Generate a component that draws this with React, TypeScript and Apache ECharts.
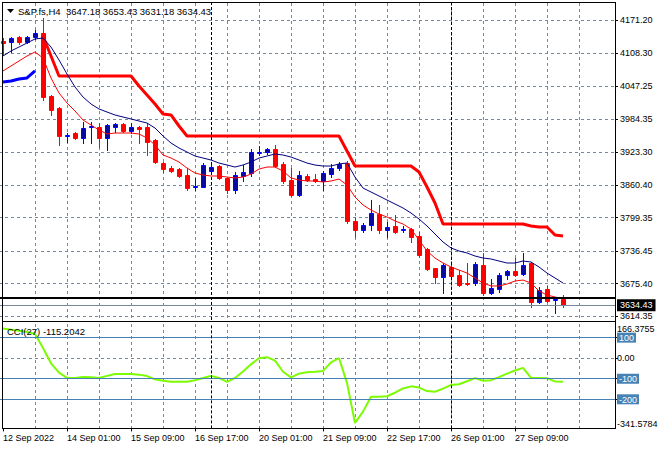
import React, { useEffect, useRef } from "react";
import * as echarts from "echarts";

// ---------- data ----------
const symbolName = "S&P.fs";
const timeframe = "H4";

const barTimes = [
  "12 Sep 17:00", "12 Sep 21:00", "13 Sep 01:00", "13 Sep 05:00", "13 Sep 09:00", "13 Sep 13:00", "13 Sep 17:00", "13 Sep 21:00",
  "14 Sep 01:00", "14 Sep 05:00", "14 Sep 09:00", "14 Sep 13:00", "14 Sep 17:00", "14 Sep 21:00", "15 Sep 01:00", "15 Sep 05:00",
  "15 Sep 09:00", "15 Sep 13:00", "15 Sep 17:00", "15 Sep 21:00", "16 Sep 01:00", "16 Sep 05:00", "16 Sep 09:00", "16 Sep 13:00",
  "16 Sep 17:00", "16 Sep 21:00", "19 Sep 01:00", "19 Sep 05:00", "19 Sep 09:00", "19 Sep 13:00", "19 Sep 17:00", "19 Sep 21:00",
  "20 Sep 01:00", "20 Sep 05:00", "20 Sep 09:00", "20 Sep 13:00", "20 Sep 17:00", "20 Sep 21:00", "21 Sep 01:00", "21 Sep 05:00",
  "21 Sep 09:00", "21 Sep 13:00", "21 Sep 17:00", "21 Sep 21:00", "22 Sep 01:00", "22 Sep 05:00", "22 Sep 09:00", "22 Sep 13:00",
  "22 Sep 17:00", "22 Sep 21:00", "23 Sep 01:00", "23 Sep 05:00", "23 Sep 09:00", "23 Sep 13:00", "23 Sep 17:00", "23 Sep 21:00",
  "26 Sep 01:00", "26 Sep 05:00", "26 Sep 09:00", "26 Sep 13:00", "26 Sep 17:00", "26 Sep 21:00", "27 Sep 01:00", "27 Sep 05:00",
  "27 Sep 09:00", "27 Sep 13:00", "27 Sep 17:00", "27 Sep 21:00", "28 Sep 01:00", "28 Sep 05:00", "28 Sep 09:00",
];

const openP = [
  4131.7, 4129.8, 4139.2, 4129.8, 4139.2, 4146.7, 4028.2, 4005.6, 3953.0, 3958.6,
  3949.2, 3969.9, 3969.9, 3949.2, 3969.9, 3975.5, 3962.4, 3969.9, 3969.9, 3945.4,
  3902.1, 3892.7, 3890.8, 3879.6, 3857.0, 3857.0, 3887.1, 3896.5, 3873.9, 3851.4,
  3877.7, 3883.3, 3921.5, 3922.8, 3928.5, 3900.3, 3870.2, 3842.0, 3877.7, 3872.0,
  3868.3, 3881.4, 3892.7, 3902.1, 3793.1, 3776.1, 3785.5, 3806.2, 3776.1, 3783.7,
  3776.1, 3778.0, 3764.8, 3740.4, 3704.6, 3687.7, 3706.5, 3691.5, 3676.4, 3676.4,
  3710.3, 3657.6, 3665.1, 3691.5, 3699.0, 3693.3, 3714.0, 3640.7, 3665.1, 3643.5,
  3647.18,
];
const highP = [
  4137.3, 4139.2, 4141.1, 4141.1, 4152.4, 4175.0, 4030.1, 4007.5, 3958.6, 3960.5,
  3979.3, 3979.3, 3977.4, 3975.5, 3977.4, 3977.4, 3977.4, 3971.8, 3977.4, 3947.3,
  3904.0, 3896.5, 3892.7, 3892.7, 3873.9, 3902.1, 3898.4, 3898.4, 3875.8, 3885.2,
  3898.4, 3928.5, 3934.1, 3930.4, 3936.0, 3904.0, 3892.7, 3887.1, 3881.4, 3881.4,
  3887.1, 3900.3, 3904.0, 3905.9, 3798.7, 3789.3, 3832.5, 3823.2, 3791.2, 3804.3,
  3783.7, 3779.9, 3772.4, 3742.3, 3704.6, 3714.0, 3710.3, 3700.9, 3714.0, 3715.9,
  3732.9, 3683.9, 3695.2, 3700.9, 3723.4, 3732.9, 3715.9, 3668.9, 3670.8, 3648.2,
  3653.43,
];
const lowP = [
  4105.4, 4111.0, 4126.1, 4127.9, 4135.5, 4020.7, 3992.5, 3936.0, 3941.7, 3947.3,
  3939.8, 3939.8, 3932.3, 3926.6, 3960.5, 3960.5, 3958.6, 3939.8, 3917.2, 3902.1,
  3885.2, 3885.2, 3875.8, 3851.4, 3851.4, 3857.0, 3883.3, 3872.0, 3845.7, 3845.7,
  3868.3, 3877.7, 3917.2, 3919.1, 3894.6, 3864.5, 3840.1, 3840.1, 3868.3, 3866.4,
  3851.4, 3875.8, 3889.0, 3789.3, 3763.0, 3772.4, 3776.1, 3770.5, 3763.0, 3770.5,
  3772.4, 3753.6, 3725.3, 3700.9, 3676.4, 3657.6, 3687.7, 3670.8, 3672.6, 3672.6,
  3653.8, 3655.7, 3659.5, 3683.9, 3689.6, 3691.5, 3631.3, 3638.8, 3640.7, 3620.0,
  3631.18,
];
const closeP = [
  4127.9, 4137.3, 4129.8, 4139.2, 4146.7, 4026.3, 4001.9, 3953.0, 3954.9, 3949.2,
  3968.0, 3971.8, 3949.2, 3973.7, 3975.5, 3962.4, 3969.9, 3966.1, 3941.7, 3904.0,
  3890.8, 3887.1, 3877.7, 3855.1, 3858.9, 3898.4, 3894.6, 3873.9, 3851.4, 3879.6,
  3885.2, 3922.8, 3922.8, 3928.5, 3896.5, 3868.3, 3842.0, 3879.6, 3870.2, 3867.4,
  3883.3, 3892.7, 3900.3, 3793.1, 3776.1, 3785.5, 3808.1, 3776.1, 3781.8, 3772.4,
  3778.9, 3763.0, 3729.1, 3702.7, 3687.7, 3710.3, 3689.6, 3672.6, 3674.5, 3712.2,
  3657.6, 3667.0, 3691.5, 3699.0, 3691.5, 3710.3, 3640.7, 3663.2, 3642.6, 3645.4,
  3634.43,
];

const maFast = [
  4075.3, 4084.7, 4094.1, 4103.5, 4111.0, 4099.7, 4062.1, 4033.9, 4015.1, 4000.0,
  3983.1, 3973.7, 3964.3, 3956.7, 3958.6, 3958.6, 3958.6, 3956.7, 3949.2, 3936.0,
  3917.2, 3911.5, 3904.0, 3892.7, 3883.3, 3879.6, 3877.7, 3877.7, 3875.8, 3873.9,
  3875.8, 3881.4, 3890.8, 3894.6, 3894.6, 3887.1, 3873.9, 3870.2, 3868.3, 3868.3,
  3866.4, 3868.3, 3872.0, 3860.8, 3838.2, 3823.2, 3813.7, 3806.2, 3800.6, 3793.1,
  3787.4, 3778.0, 3757.3, 3736.6, 3723.4, 3714.0, 3706.5, 3700.9, 3695.2, 3685.8,
  3676.4, 3670.8, 3670.8, 3674.5, 3680.2, 3682.0, 3676.4, 3661.4, 3653.8, 3650.1,
  3646.3,
];
const maSlow = [
  4103.5, 4112.9, 4120.4, 4127.9, 4135.5, 4137.3, 4120.4, 4096.0, 4069.6, 4045.2,
  4026.3, 4013.2, 4003.8, 3998.1, 3992.5, 3988.7, 3985.0, 3981.2, 3977.4, 3968.0,
  3953.0, 3939.8, 3930.4, 3922.8, 3915.3, 3911.5, 3907.8, 3902.1, 3898.4, 3894.6,
  3898.4, 3904.0, 3911.5, 3915.3, 3919.1, 3917.2, 3913.4, 3907.8, 3902.1, 3898.4,
  3896.5, 3896.5, 3900.3, 3902.1, 3875.8, 3855.1, 3847.6, 3840.1, 3832.5, 3825.0,
  3817.5, 3808.1, 3796.8, 3783.7, 3768.6, 3753.6, 3742.3, 3736.6, 3732.9, 3727.2,
  3723.4, 3721.6, 3717.8, 3714.0, 3714.0, 3717.8, 3715.9, 3706.5, 3695.2, 3685.8,
  3676.4,
];

// trailing stop line: up-trend part (blue) and down-trend part (red)
const trailUpStart = 0;
const trailUp = [4054.6, 4056.4, 4060.2, 4062.1, 4075.3];
const trailDownStart = 5;
const trailDown = [
  4141.1, 4103.5,
  4065.8, 4065.8, 4065.8, 4065.8, 4065.8, 4065.8, 4065.8, 4065.8, 4065.8, 4065.8,
  4047.0, 4030.1, 4013.2, 3994.4, 3992.5, 3971.8,
  3953.0, 3953.0, 3953.0, 3953.0, 3953.0, 3953.0, 3953.0, 3953.0, 3953.0, 3953.0,
  3953.0, 3953.0, 3953.0, 3953.0, 3953.0, 3953.0, 3953.0, 3953.0, 3953.0, 3953.0,
  3924.7,
  3896.5, 3896.5, 3896.5, 3896.5, 3896.5, 3896.5, 3896.5, 3896.5,
  3885.2, 3857.0, 3826.9,
  3787.4, 3787.4, 3787.4, 3787.4, 3787.4, 3787.4, 3787.4, 3787.4, 3787.4, 3787.4, 3787.4,
  3783.7, 3781.8, 3781.8, 3766.7, 3764.8,
];

const cciPeriod = 27;
const cci = [
  144, 138, 133, 128, 118, 50, -25, -70, -96, -96,
  -92, -93, -96, -86, -77, -77, -77, -80, -87, -103,
  -110, -115, -115, -115, -107, -96, -86, -96, -115, -96,
  -65, -30, 0, 5, -12, -66, -93, -75, -68, -66,
  -62, -20, 0, -120, -315, -260, -188, -187, -185, -168,
  -147, -137, -143, -160, -163, -148, -130, -127, -112, -97,
  -110, -107, -92, -75, -60, -47, -96, -96, -97, -113,
  -115.2042,
];
const cciLevels = [100, -100, -200];
const cciZero = 0;
const cciAxisMax = 166.3755;
const cciAxisMin = -341.5784;

const priceAxisMax = 4203.19;
const priceAxisMin = 3606.81;
const priceTicks = [4171.2, 4108.3, 4047.25, 3984.35, 3923.3, 3860.4, 3799.35, 3736.45, 3675.4, 3614.35];

const xTickIndex = [0, 8, 16, 24, 32, 40, 48, 56, 64];
const xTickText = [
  "12 Sep 2022", "14 Sep 01:00", "15 Sep 09:00", "16 Sep 17:00", "20 Sep 01:00",
  "21 Sep 09:00", "22 Sep 17:00", "26 Sep 01:00", "27 Sep 09:00",
];

const supportLevel = 3648.2;
const weekStarts = [26, 56];

// ---------- component ----------
export default function App() {
  const ref = useRef<HTMLDivElement>(null);

  useEffect(() => {
    if (!ref.current) return;
    const chart = echarts.init(ref.current, undefined, { renderer: "svg" });
    const n = closeP.length;
    const last = n - 1;
    const font = "Liberation Sans, Arial, sans-serif";
    const gridColor = "#778899";
    const dash = [3, 3];
    // a value of exactly 0 is dropped from customValues, so nudge it by a hair
    const zeroTick = cciZero + 1e-9;

    const candles = closeP.map((c, i) => [i, openP[i], c, lowP[i], highP[i]]);
    const fastData = maFast.map((v, i) => [i, v]);
    const slowData = maSlow.map((v, i) => [i, v]);
    const upData = trailUp.map((v, k) => [trailUpStart + k, v]);
    const downData = trailDown.map((v, k) => [trailDownStart + k, v]);
    const cciData = cci.map((v, i) => [i, v]);

    const vGrid: number[] = [];
    for (let k = 4; k <= 72; k += 4) vGrid.push(k);

    const xBase: any = {
      type: "value",
      min: -0.5,
      max: 76.5,
      axisLine: { show: false, onZero: false },
      axisTick: { show: false },
      axisLabel: { show: false },
      splitLine: { show: false },
    };

    const cciTickValues = [100, zeroTick, -100, -200];

    const option: any = {
      animation: false,
      backgroundColor: "#ffffff",
      textStyle: { fontFamily: font, fontSize: 9, color: "#000" },
      grid: [
        { left: -1, right: 45, top: 3, height: 317, outerBoundsMode: "none", containLabel: false },
        { left: -1, right: 45, top: 324, height: 104.4, outerBoundsMode: "none", containLabel: false },
      ],
      xAxis: [
        {
          ...xBase,
          gridIndex: 0,
          axisTick: { show: false, customValues: vGrid },
          splitLine: { show: true, lineStyle: { color: gridColor, type: dash, width: 1 } },
        },
        {
          ...xBase,
          gridIndex: 1,
          axisTick: { show: false, customValues: vGrid },
          splitLine: { show: true, lineStyle: { color: gridColor, type: dash, width: 1 } },
        },
        {
          ...xBase,
          gridIndex: 1,
          position: "bottom",
          axisTick: {
            show: true,
            customValues: xTickIndex,
            length: 3,
            lineStyle: { color: "#000" },
          },
          axisLabel: {
            show: true,
            customValues: xTickIndex,
            showMinLabel: true,
            showMaxLabel: true,
            formatter: (v: number) => {
              const k = xTickIndex.indexOf(Math.round(v));
              return k >= 0 ? xTickText[k] : "";
            },
            align: "left",
            margin: 5,
            color: "#000",
            fontSize: 9,
            fontFamily: font,
          },
        },
      ],
      yAxis: [
        {
          type: "value",
          gridIndex: 0,
          position: "right",
          min: priceAxisMin,
          max: priceAxisMax,
          axisLine: { show: false, onZero: false },
          axisTick: { show: true, customValues: priceTicks, length: 3, lineStyle: { color: "#000" } },
          axisLabel: {
            customValues: priceTicks,
            showMinLabel: true,
            showMaxLabel: true,
            formatter: (v: number) => Number(v).toFixed(2),
            margin: 5,
            color: "#000",
            fontSize: 9,
            fontFamily: font,
          },
          splitLine: { show: true, lineStyle: { color: gridColor, type: dash, width: 1 } },
        },
        {
          type: "value",
          gridIndex: 1,
          position: "right",
          min: cciAxisMin,
          max: cciAxisMax,
          axisLine: { show: false, onZero: false },
          axisTick: { show: true, customValues: cciTickValues, length: 3, lineStyle: { color: "#000" } },
          axisLabel: {
            customValues: cciTickValues,
            showMinLabel: true,
            showMaxLabel: true,
            formatter: (val: number) => {
              const v = Number(val);
              if (cciLevels.some((l) => Math.abs(l - v) < 1e-6)) return "{lv|" + Math.round(v) + "}";
              return Math.abs(v) < 1e-6 ? cciZero.toFixed(2) : v.toFixed(2);
            },
            margin: 2,
            color: "#000",
            fontSize: 9,
            fontFamily: font,
            rich: {
              lv: {
                color: "#fff",
                backgroundColor: "#4682b4",
                padding: [1, 2, 0, 2],
                fontSize: 9,
                fontFamily: font,
              },
            },
          },
          splitLine: { show: true, lineStyle: { color: gridColor, type: dash, width: 1 } },
        },
        {
          // separate axis for the window's max / min labels so they do not hide the level labels
          type: "value",
          gridIndex: 1,
          position: "right",
          min: cciAxisMin,
          max: cciAxisMax,
          axisLine: { show: false, onZero: false },
          axisTick: { show: false },
          splitLine: { show: false },
          axisLabel: {
            customValues: [cciAxisMax, cciAxisMin],
            showMinLabel: true,
            showMaxLabel: true,
            formatter: (val: number) => {
              const v = Number(val);
              return v > 0 ? "\n" + cciAxisMax.toFixed(4) : cciAxisMin.toFixed(4) + "\n";
            },
            margin: 2,
            color: "#000",
            fontSize: 9,
            fontFamily: font,
          },
        },
      ],
      series: [
        {
          name: "candles",
          type: "custom",
          xAxisIndex: 0,
          yAxisIndex: 0,
          clip: true,
          silent: true,
          z: 3,
          encode: { x: 0, y: [1, 2, 3, 4] },
          data: candles,
          renderItem: (_params: any, api: any) => {
            const i = api.value(0);
            const o = api.value(1);
            const c = api.value(2);
            const l = api.value(3);
            const h = api.value(4);
            const pO = api.coord([i, o]);
            const pC = api.coord([i, c]);
            const pL = api.coord([i, l]);
            const pH = api.coord([i, h]);
            const cx = Math.round(pO[0]) + 0.5;
            const up = c >= o;
            const col = up ? "#0000ff" : "#ff0000";
            const yTop = Math.round(Math.min(pO[1], pC[1])) + 0.5;
            const yBot = Math.round(Math.max(pO[1], pC[1])) + 0.5;
            return {
              type: "group",
              children: [
                {
                  type: "line",
                  shape: { x1: cx, y1: Math.round(pH[1]), x2: cx, y2: Math.round(pL[1]) + 1 },
                  style: { stroke: col, lineWidth: 1 },
                },
                {
                  type: "rect",
                  shape: { x: cx - 2, y: yTop, width: 4, height: Math.max(yBot - yTop, 0) },
                  style: { fill: up ? "#0a0a9e" : "#ff0000", stroke: col, lineWidth: 1 },
                },
              ],
            };
          },
        },
        {
          name: "trail up",
          type: "line",
          xAxisIndex: 0,
          yAxisIndex: 0,
          data: upData,
          showSymbol: false,
          symbol: "none",
          silent: true,
          z: 4,
          lineStyle: { color: "#0000ff", width: 3 },
        },
        {
          name: "trail down",
          type: "line",
          xAxisIndex: 0,
          yAxisIndex: 0,
          data: downData,
          showSymbol: false,
          symbol: "none",
          silent: true,
          z: 4,
          lineStyle: { color: "#ff0000", width: 3 },
        },
        {
          name: "ma slow",
          type: "line",
          xAxisIndex: 0,
          yAxisIndex: 0,
          data: slowData,
          showSymbol: false,
          symbol: "none",
          silent: true,
          z: 4,
          lineStyle: { color: "#000080", width: 1 },
          markLine: {
            silent: true,
            symbol: ["none", "none"],
            animation: false,
            data: [
              ...weekStarts.map((w) => ({
                xAxis: w,
                lineStyle: { color: "#000", width: 1, type: [3, 2] },
                label: { show: false },
              })),
              {
                yAxis: closeP[last],
                lineStyle: { color: gridColor, width: 1, type: "solid" },
                label: {
                  show: true,
                  position: "end",
                  formatter: closeP[last].toFixed(2),
                  color: "#fff",
                  backgroundColor: "#000",
                  padding: [2, 3, 1, 3],
                  fontSize: 9,
                  fontFamily: font,
                  distance: 2,
                },
              },
              {
                yAxis: supportLevel,
                lineStyle: { color: "#000", width: 2, type: "solid" },
                label: { show: false },
              },
            ],
          },
        },
        {
          name: "ma fast",
          type: "line",
          xAxisIndex: 0,
          yAxisIndex: 0,
          data: fastData,
          showSymbol: false,
          symbol: "none",
          silent: true,
          z: 4,
          lineStyle: { color: "#ff0000", width: 1 },
        },
        {
          name: "CCI",
          type: "line",
          xAxisIndex: 1,
          yAxisIndex: 1,
          data: cciData,
          showSymbol: false,
          symbol: "none",
          silent: true,
          z: 4,
          lineStyle: { color: "#7cfc00", width: 2 },
          markLine: {
            silent: true,
            symbol: ["none", "none"],
            animation: false,
            data: [
              ...cciLevels.map((l) => ({
                yAxis: l,
                lineStyle: { color: "#4682b4", width: 1, type: "solid" },
                label: { show: false },
              })),
              ...weekStarts.map((w) => ({
                xAxis: w,
                lineStyle: { color: "#000", width: 1, type: [3, 2] },
                label: { show: false },
              })),
            ],
          },
        },
      ],
      graphic: [
        {
          type: "polygon",
          z: 100,
          shape: { points: [[7, 9], [14, 9], [10.5, 13]] },
          style: { fill: "#000" },
        },
        {
          type: "text",
          z: 100,
          x: 18,
          y: 11,
          style: {
            text:
              symbolName + "," + timeframe + "  " +
              openP[last].toFixed(2) + " " + highP[last].toFixed(2) + " " +
              lowP[last].toFixed(2) + " " + closeP[last].toFixed(2),
            fill: "#000",
            font: "9.5px " + font,
            verticalAlign: "middle",
          },
        },
        {
          type: "text",
          z: 100,
          x: 7,
          y: 331,
          style: {
            text: "CCI(" + cciPeriod + ") " + cci[last].toFixed(4),
            fill: "#000",
            font: "9.5px " + font,
            verticalAlign: "middle",
          },
        },
        { type: "line", z: 100, shape: { x1: 2.5, y1: 2.5, x2: 2.5, y2: 428.5 }, style: { stroke: "#000", lineWidth: 1 } },
        { type: "line", z: 100, shape: { x1: 2, y1: 2.5, x2: 616, y2: 2.5 }, style: { stroke: "#000", lineWidth: 1 } },
        { type: "line", z: 100, shape: { x1: 2, y1: 321.5, x2: 616, y2: 321.5 }, style: { stroke: "#000", lineWidth: 1 } },
        { type: "line", z: 100, shape: { x1: 2, y1: 428.5, x2: 616, y2: 428.5 }, style: { stroke: "#000", lineWidth: 1 } },
        { type: "line", z: 100, shape: { x1: 615.5, y1: 2, x2: 615.5, y2: 429 }, style: { stroke: "#000", lineWidth: 1 } },
      ],
    };

    chart.setOption(option);
    return () => chart.dispose();
  }, []);

  return (
    <div
      ref={ref}
      style={{ position: "fixed", left: 0, top: 0, width: 660, height: 450, background: "#fff" }}
    />
  );
}
